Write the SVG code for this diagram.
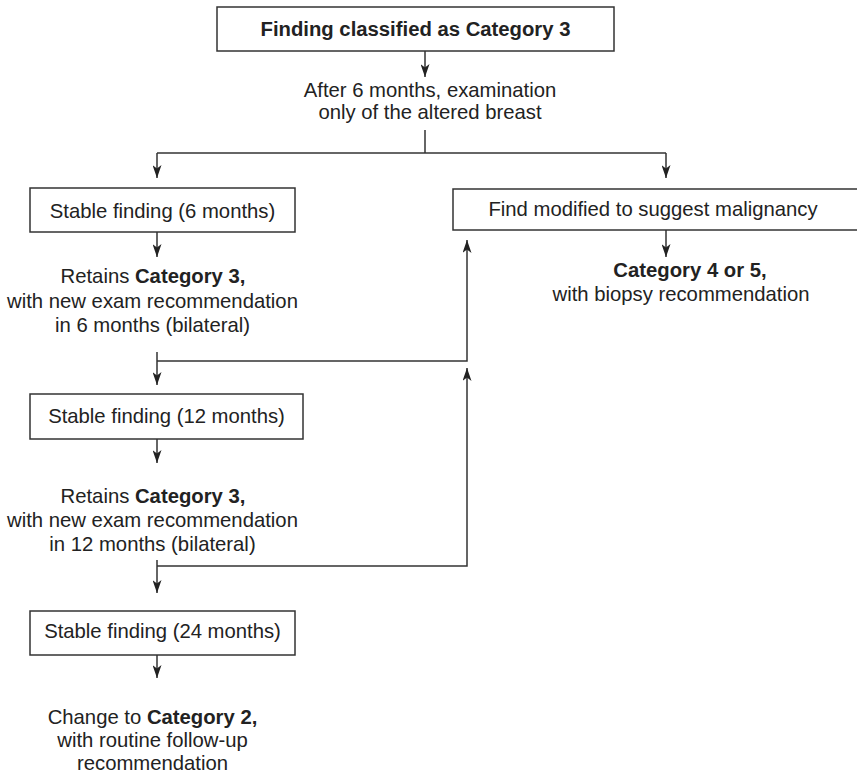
<svg xmlns="http://www.w3.org/2000/svg" width="857" height="773" viewBox="0 0 857 773">
<style>
.box{fill:#fff;stroke:#333;stroke-width:1.5}
.ln{fill:none;stroke:#333;stroke-width:1.5}
.arr{marker-end:url(#ah)}
text{font-family:"Liberation Sans",Arial,sans-serif;font-size:20.3px;fill:#222;text-anchor:middle}
.b{font-weight:bold}
</style>
<defs>
<marker id="ah" viewBox="0 0 13 9" refX="13" refY="4.5" markerWidth="13" markerHeight="9" markerUnits="userSpaceOnUse" orient="auto">
<path d="M0,0 L13,4.5 L0,9 L3.5,4.5 z" fill="#222"/>
</marker>
</defs>
<rect width="857" height="773" fill="#fff"/>
<g id="connectors">
<line class="ln arr" x1="425" y1="51" x2="425" y2="77"/>
<polyline class="ln" points="425,130 425,153"/>
<line class="ln" x1="157" y1="153" x2="666" y2="153"/>
<line class="ln arr" x1="157" y1="153" x2="157" y2="178"/>
<line class="ln arr" x1="666" y1="153" x2="666" y2="178"/>
<line class="ln arr" x1="666" y1="230" x2="666" y2="257"/>
<line class="ln arr" x1="157" y1="232" x2="157" y2="257"/>
<line class="ln arr" x1="157" y1="352" x2="157" y2="385"/>
<polyline class="ln arr" points="157,361 467,361 467,240"/>
<line class="ln arr" x1="157" y1="439" x2="157" y2="463"/>
<line class="ln arr" x1="157" y1="560" x2="157" y2="593"/>
<polyline class="ln arr" points="157,566 467,566 467,368"/>
<line class="ln arr" x1="157" y1="655" x2="157" y2="678"/>
</g>
<g id="n-start">
<rect class="box" x="217" y="7" width="397" height="44"/>
<text class="b" x="415.5" y="36">Finding classified as Category 3</text>
</g>
<g id="n-after6">
<text x="430" y="97">After 6 months, examination</text>
<text x="430" y="119">only of the altered breast</text>
</g>
<g id="n-stable6">
<rect class="box" x="30" y="188" width="265" height="44"/>
<text x="162.5" y="218">Stable finding (6 months)</text>
</g>
<g id="n-modified">
<rect class="box" x="453" y="189" width="410" height="41"/>
<text x="653" y="216">Find modified to suggest malignancy</text>
</g>
<g id="n-cat45">
<text class="b" x="690" y="277">Category 4 or 5,</text>
<text x="681" y="301">with biopsy recommendation</text>
</g>
<g id="n-retain6">
<text x="153" y="283">Retains <tspan class="b">Category 3,</tspan></text>
<text x="152.5" y="308">with new exam recommendation</text>
<text x="152.5" y="332">in 6 months (bilateral)</text>
</g>
<g id="n-stable12">
<rect class="box" x="30" y="394" width="273" height="45"/>
<text x="166.5" y="423">Stable finding (12 months)</text>
</g>
<g id="n-retain12">
<text x="153" y="503">Retains <tspan class="b">Category 3,</tspan></text>
<text x="152.5" y="527">with new exam recommendation</text>
<text x="152.5" y="551">in 12 months (bilateral)</text>
</g>
<g id="n-stable24">
<rect class="box" x="30" y="611" width="265" height="44"/>
<text x="162.5" y="638">Stable finding (24 months)</text>
</g>
<g id="n-cat2">
<text x="152.5" y="724">Change to <tspan class="b">Category 2,</tspan></text>
<text x="152.5" y="747">with routine follow-up</text>
<text x="152.5" y="770">recommendation</text>
</g>
</svg>
